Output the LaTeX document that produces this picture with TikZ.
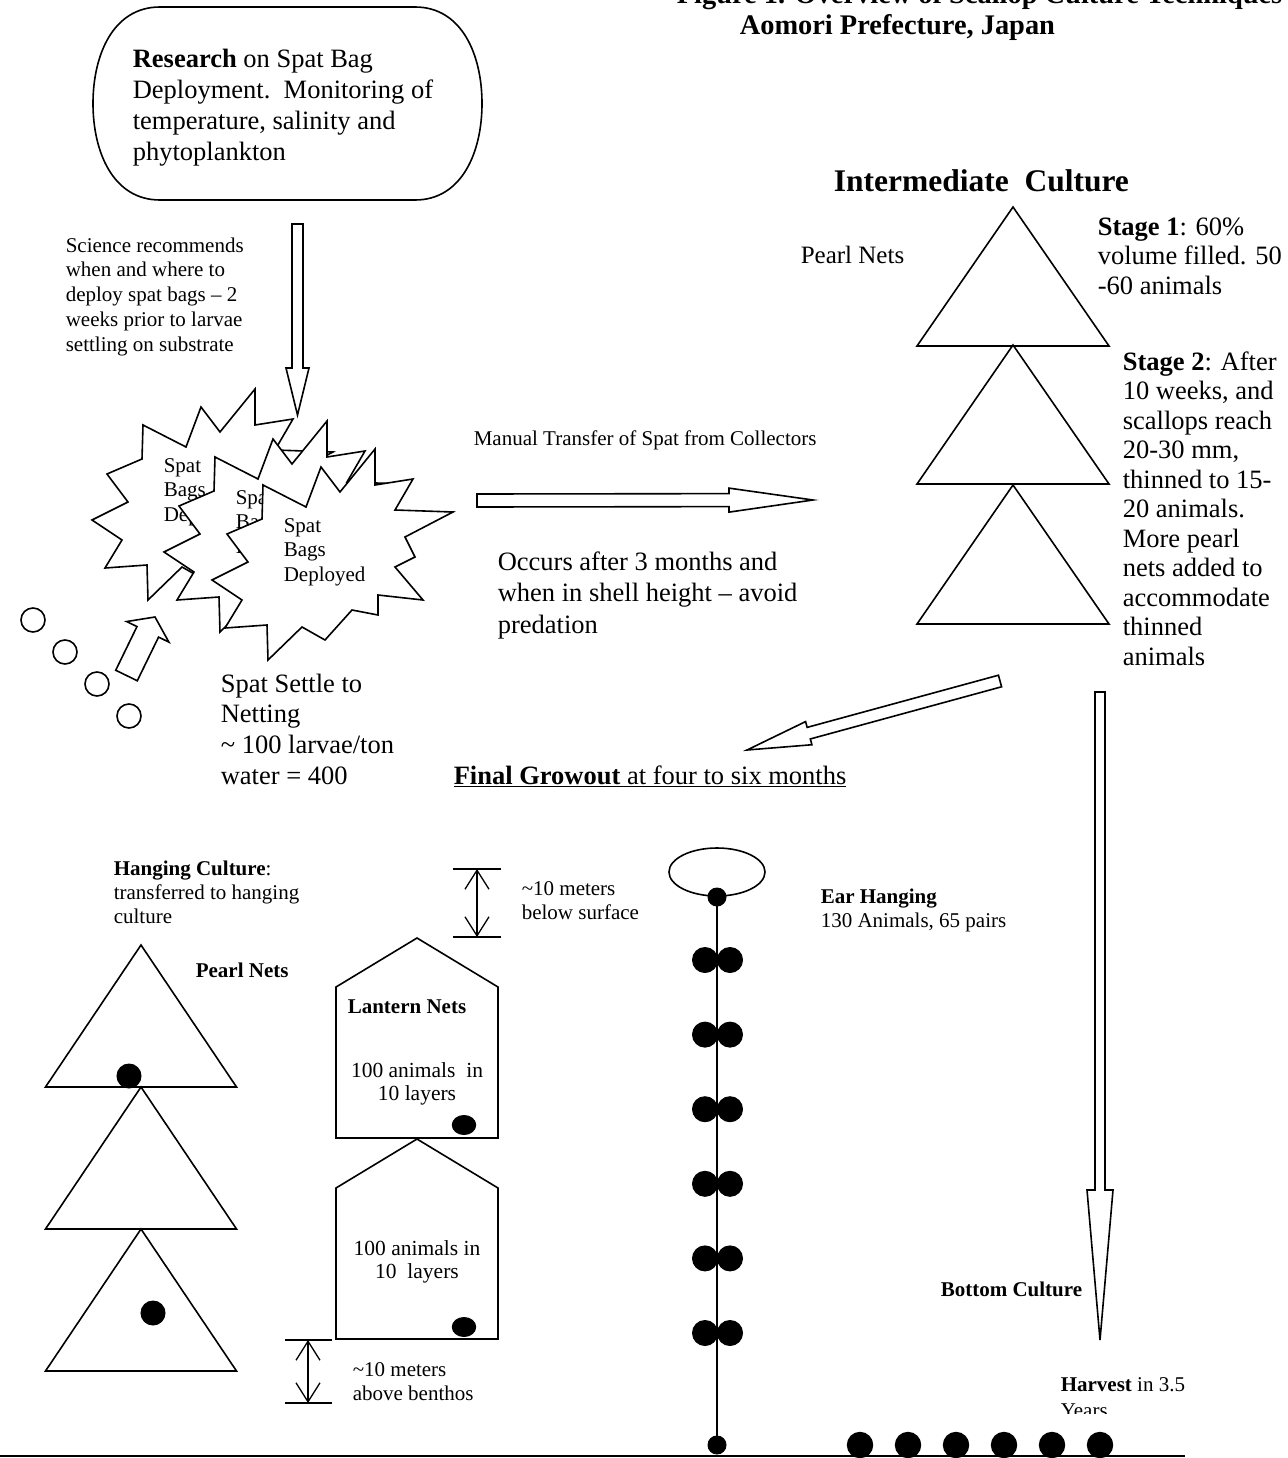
\documentclass[tikz,border=0pt]{standalone}
\usepackage{fontspec}
\setmainfont{Liberation Serif}
\usetikzlibrary{calc,arrows.meta}

\tikzset{
    txt/.style={inner sep=0pt, anchor=base west, align=left},
    big/.style={font=\fontsize{26.5}{30.7}\selectfont},
    small/.style={font=\fontsize{21}{24.8}\selectfont},
    head/.style={font=\fontsize{28.4}{32}\selectfont\bfseries},
    dot/.style={fill=black, draw=black, line width=1pt},
    dim/.style={line width=1.3pt, {Straight Barb[length=19pt,width=24pt]}-{Straight Barb[length=19pt,width=24pt]}},
    spatbag/.pic={
        \draw[fill=white] (-67,-67) -- (-24,-45) -- (-9,-85) -- (10,-60) -- (45,-103) -- (45,-67) -- (83,-73) -- (65,-42) -- (123,-40) -- (75,-15) -- (85,5) -- (65,15) -- (93,48) -- (48,43) -- (48,63) -- (22,58) -- (-5,88) -- (-28,75) -- (-62,108) -- (-63,73) -- (-105,76) -- (-88,48) -- (-118,28) -- (-82,10) -- (-103,-18) -- (-68,-33) -- cycle;
        \node[txt, small] (-lbl) at (-47,29.6) {Spat\\Bags\\Deployed};
    }
}

\newcommand{\blockarrow}[5]{%
    \coordinate (ba-b) at ($(#2)!#5!(#1)$);
    \draw[fill=white] ($(#1)!#3!90:(#2)$) -- ($(ba-b)!#3!90:(#2)$) -- ($(ba-b)!#4!90:(#2)$) -- (#2) -- ($(ba-b)!#4!-90:(#2)$) -- ($(ba-b)!#3!-90:(#2)$) -- ($(#1)!#3!-90:(#2)$) -- cycle;
}

\begin{document}
\begin{tikzpicture}[x=1pt, y=-1pt, line width=1.6pt]
        \useasboundingbox (0,0) rectangle (1287,1458);
        \clip (0,0) rectangle (1287,1458);

        \node[txt, head, anchor=base east] (title) at (1283,3.5) {Figure 1. Overview of Scallop Culture Techniques};
        \node[txt, head] (place) at (739,35) {Aomori Prefecture, Japan};

        \draw (160,7) -- (415,7) .. controls (462,7) and (482,55) .. (482,103.5) .. controls (482,152) and (462,200) .. (415,200) -- (160,200) .. controls (113,200) and (93,152) .. (93,103.5) .. controls (93,55) and (113,7) .. (160,7) -- cycle;
        \node[txt, big] (research) at (132,160.1) {\textbf{Research} on Spat Bag\\Deployment.\ \ Monitoring of\\temperature, salinity and\\phytoplankton};

        \node[txt, small] (science) at (65,351.2) {Science recommends\\when and where to\\deploy spat bags \textendash{} 2\\weeks prior to larvae\\settling on substrate};

        \coordinate (dropA) at (297.5,224);
        \coordinate (dropB) at (297.5,415);
        \blockarrow{dropA}{dropB}{5.5pt}{11.5pt}{47pt}

        \pic (bagA) at (210,492) {spatbag};
        \pic (bagB) at (282,524) {spatbag};
        \pic (bagC) at (330,552) {spatbag};

        \foreach \i in {0,...,3}
            \draw (33+32*\i,620+32*\i) circle (12);
        \coordinate (settleA) at (126.5,675.5);
        \coordinate (settleB) at (155,617);
        \blockarrow{settleA}{settleB}{12pt}{23.5pt}{16.5pt}
        \node[txt, big] (settle) at (220,784.1) {Spat Settle to\\Netting\\\textasciitilde{} 100 larvae/ton\\water = 400};

        \node[txt, small] (manual) at (473,445) {Manual Transfer of Spat from Collectors};
        \coordinate (moveA) at (477,500.5);
        \coordinate (moveB) at (813,500);
        \blockarrow{moveA}{moveB}{6.5pt}{12pt}{84pt}
        \node[txt, big, font=\fontsize{26.5}{31.5}\selectfont] (occurs) at (497,633) {Occurs after 3 months and\\when in shell height \textendash{} avoid\\predation};

        \node[txt, font=\fontsize{31.5}{36}\selectfont\bfseries] (inter) at (833,192) {Intermediate\ \ Culture};
        \node[txt, font=\fontsize{25}{29}\selectfont] (pearlup) at (800,263) {Pearl Nets};
        \foreach \y in {207,345,485}
            \draw (1013,\y) -- ++(96,139) -- ++(-192,0) -- cycle;
        \node[txt, big, font=\fontsize{26.5}{29.5}\selectfont] (stage1) at (1097,294) {\textbf{Stage 1}: 60\%\\volume filled. 50\\-60 animals};
        \node[txt, big, font=\fontsize{26.5}{29.5}\selectfont] (stage2) at (1122,665) {\textbf{Stage 2}: After\\10 weeks, and\\scallops reach\\20-30 mm,\\thinned to 15-\\20 animals.\\More pearl\\nets added to\\accommodate\\thinned\\animals};

        \coordinate (growA) at (1000,681);
        \coordinate (growB) at (747,750);
        \blockarrow{growA}{growB}{6pt}{12pt}{64pt}
        \node[txt, big] (final) at (453,784) {\underline{\textbf{Final Growout} at four to six months}};

        \coordinate (bottomA) at (1100,692);
        \coordinate (bottomB) at (1100,1340);
        \blockarrow{bottomA}{bottomB}{5pt}{13pt}{150pt}
        \node[txt, small, font=\fontsize{21}{24.8}\selectfont\bfseries] (bottom) at (940,1296) {Bottom Culture};

        \node[txt, small, font=\fontsize{21}{24}\selectfont] (hanging) at (113,923) {\textbf{Hanging Culture}:\\transferred to hanging\\culture};
        \node[txt, small, font=\fontsize{21}{24}\selectfont\bfseries] (pearllow) at (195,977) {Pearl Nets};
        \foreach \y in {945,1087,1229}
            \draw (141,\y) -- ++(95.5,142) -- ++(-191,0) -- cycle;
        \draw[dot] (129,1076) circle (12);
        \draw[dot] (153,1313) circle (12);

        \foreach \y in {938,1139}
            \draw (336,{\y+49}) -- (417,\y) -- (498,{\y+49}) -- (498,{\y+200}) -- (336,{\y+200}) -- cycle;
        \node[txt, small, font=\fontsize{21}{24}\selectfont\bfseries] (lantern) at (347,1013) {Lantern Nets};
        \node[txt, small, font=\fontsize{21.5}{23.3}\selectfont, anchor=base, align=center] (layersA) at (417,1100.3) {100 animals\ \ in\\10 layers};
        \node[txt, small, font=\fontsize{21.5}{23.3}\selectfont, anchor=base, align=center] (layersB) at (417,1278.3) {100 animals in\\10\ \ layers};
        \draw[dot] (464,1125) ellipse (11.7 and 9.5);
        \draw[dot] (464,1327) ellipse (11.7 and 9.5);

        \coordinate (surfA) at (477,869);
        \coordinate (surfB) at (477,937);
        \draw (453,869) -- (501,869);
        \draw (453,937) -- (501,937);
        \draw[dim] (surfA) -- (surfB);
        \node[txt, small, font=\fontsize{21}{24}\selectfont] (below) at (521,919) {\textasciitilde10 meters\\below surface};

        \coordinate (benA) at (308,1340);
        \coordinate (benB) at (308,1403);
        \draw (285,1340) -- (332,1340);
        \draw (285,1403) -- (332,1403);
        \draw[dim] (benA) -- (benB);
        \node[txt, small, font=\fontsize{21}{24}\selectfont] (above) at (352,1400) {\textasciitilde10 meters\\above benthos};

        \draw (717,872) ellipse (48 and 24);
        \draw (717,897) -- (717,1445);
        \draw[dot] (717,897) circle (9);
        \draw[dot] (717,1445) circle (9);
        \foreach \i in {0,...,5} {
            \draw[dot] (705,{960+74.6*\i}) circle (12.5);
            \draw[dot] (730,{960+74.6*\i}) circle (12.5);
        }
        \node[txt, small] (ear) at (820,927.8) {\textbf{Ear Hanging}\\130 Animals, 65 pairs};

        \begin{scope}
            \clip (1040,1360) rectangle (1220,1413);
            \node[txt, small, font=\fontsize{21}{26}\selectfont] (harvest) at (1060,1417) {\textbf{Harvest} in 3.5\\Years};
        \end{scope}
        \foreach \x in {860,908,...,1100}
            \draw[dot] (\x,1445) circle (12.7);
        \draw (0,1456) -- (1185,1456);
\end{tikzpicture}
\end{document}
